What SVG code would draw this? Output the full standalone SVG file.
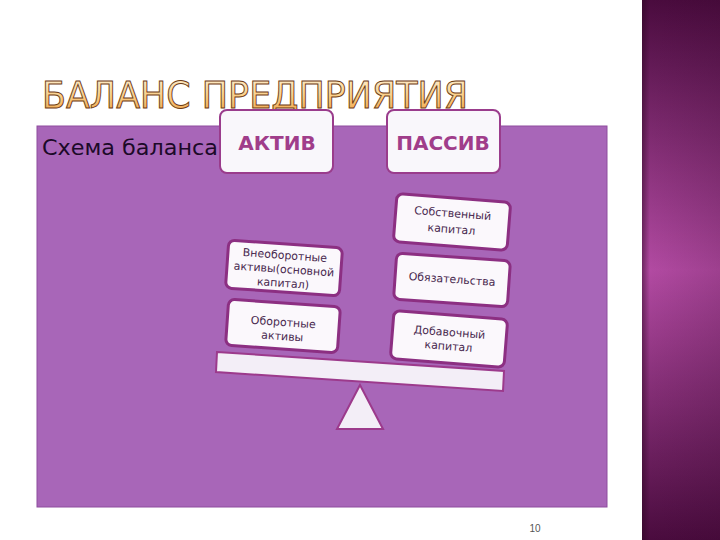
<svg xmlns="http://www.w3.org/2000/svg" width="720" height="540" viewBox="0 0 720 540">
  <defs>
    <linearGradient id="side" x1="0" y1="0" x2="0" y2="1">
      <stop offset="0" stop-color="#4a0b3e"/>
      <stop offset="0.5" stop-color="#b24aa2"/>
      <stop offset="1" stop-color="#4a0b3e"/>
    </linearGradient>
    <linearGradient id="sideH" x1="0" y1="0" x2="1" y2="0">
      <stop offset="0" stop-color="#2a0620" stop-opacity="0.5"/>
      <stop offset="0.1" stop-color="#2a0620" stop-opacity="0"/>
      <stop offset="1" stop-color="#2a0620" stop-opacity="0.15"/>
    </linearGradient>
    <linearGradient id="gold" x1="0" y1="0" x2="0" y2="1">
      <stop offset="0" stop-color="#fff4dc"/>
      <stop offset="0.55" stop-color="#f9cc84"/>
      <stop offset="1" stop-color="#ee9a3c"/>
    </linearGradient>
    <style>
      .box { fill: #fbf8fc; stroke: #8c2f82; stroke-width: 3; }
      .head { fill: #f9f7fb; stroke: #9a3c8c; stroke-width: 2; }
      .htxt { font-family: "DejaVu Sans", "Liberation Sans", sans-serif; font-weight: bold; font-size: 20px; fill: #a03d8a; text-anchor: middle; }
      .btxt { font-family: "DejaVu Sans", "Liberation Sans", sans-serif; font-size: 11px; fill: #4a2a50; text-anchor: middle; }
      .scale { fill: #f3eef7; stroke: #9c3a8c; stroke-width: 2; }
    </style>
  </defs>

  <rect x="0" y="0" width="720" height="540" fill="#ffffff"/>

  <!-- side panel -->
  <rect x="642" y="0" width="78" height="540" fill="url(#side)"/>
  <rect x="642" y="0" width="78" height="540" fill="url(#sideH)"/>

  <!-- title -->
  <text x="42" y="108" font-family="DejaVu Sans, Liberation Sans, sans-serif" font-size="38" fill="url(#gold)" stroke="#6e3c14" stroke-width="1" textLength="426" lengthAdjust="spacingAndGlyphs">БАЛАНС ПРЕДПРИЯТИЯ</text>

  <!-- content area -->
  <rect x="37" y="126" width="570" height="381" fill="#a866b8" stroke="#8e4c9e" stroke-width="1"/>
  <text x="42" y="155" font-family="DejaVu Sans, Liberation Sans, sans-serif" font-size="21" fill="#1c0a28" textLength="176" lengthAdjust="spacingAndGlyphs">Схема баланса</text>

  <g id="aktiv">
    <rect class="head" x="220" y="110" width="113" height="63" rx="7"/>
    <text class="htxt" x="277" y="150">АКТИВ</text>
  </g>
  <g id="passiv">
    <rect class="head" x="387" y="110" width="113" height="63" rx="7"/>
    <text class="htxt" x="443" y="150">ПАССИВ</text>
  </g>

  <g id="vneoborotnye" transform="translate(284,268) rotate(4)">
    <rect class="box" x="-57" y="-24" width="114" height="48" rx="6"/>
    <text class="btxt" y="-9">Внеоборотные</text>
    <text class="btxt" y="5">активы(основной</text>
    <text class="btxt" y="19">капитал)</text>
  </g>
  <g id="oborotnye" transform="translate(283,326) rotate(4)">
    <rect class="box" x="-56" y="-23" width="112" height="46" rx="6"/>
    <text class="btxt" y="0">Оборотные</text>
    <text class="btxt" y="14">активы</text>
  </g>
  <g id="sobstvenny" transform="translate(452,222) rotate(4.5)">
    <rect class="box" x="-57" y="-24" width="114" height="48" rx="6"/>
    <text class="btxt" y="-5">Собственный</text>
    <text class="btxt" y="11">капитал</text>
  </g>
  <g id="obyazatelstva" transform="translate(452,280) rotate(4)">
    <rect class="box" x="-57" y="-23" width="114" height="46" rx="6"/>
    <text class="btxt" y="3">Обязательства</text>
  </g>
  <g id="dobavochny" transform="translate(449,339) rotate(4.5)">
    <rect class="box" x="-57" y="-24" width="114" height="48" rx="6"/>
    <text class="btxt" y="-3">Добавочный</text>
    <text class="btxt" y="11">капитал</text>
  </g>

  <g id="scale">
    <polygon class="scale" points="217,352 504,371 503,391 216,372"/>
    <polygon class="scale" points="360,385 383,429 337,429"/>
  </g>

  <g id="connectors"></g>

  <text x="535" y="532" font-family="Liberation Sans, Arial, sans-serif" font-size="10" fill="#555555" text-anchor="middle">10</text>
</svg>
